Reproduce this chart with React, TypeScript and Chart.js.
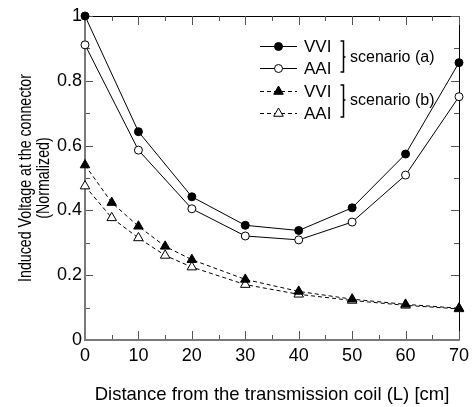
import React, { useEffect, useRef } from 'react';
import { Chart, registerables } from 'chart.js';
Chart.register(...registerables);

const distA = [0, 10, 20, 30, 40, 50, 60, 70];
const vviA = [1.0, 0.643, 0.442, 0.354, 0.338, 0.408, 0.574, 0.856];
const aaiA = [0.911, 0.586, 0.405, 0.321, 0.309, 0.364, 0.509, 0.751];
const distB = [0, 5, 10, 15, 20, 30, 40, 50, 60, 70];
const vviB = [0.54, 0.424, 0.351, 0.289, 0.248, 0.187, 0.15, 0.126, 0.11, 0.098];
const aaiB = [0.475, 0.377, 0.315, 0.261, 0.225, 0.171, 0.141, 0.122, 0.107, 0.096];

const legendLabels = ['VVI', 'AAI', 'VVI', 'AAI'];
const groupLabels = ['scenario (a)', 'scenario (b)'];
const xTitle = 'Distance from the transmission coil (L) [cm]';
const yTitle = ['Induced Voltage at the connector', '(Normalized)'];

const FONT = "'Liberation Sans', Arial, Helvetica, sans-serif";
const DASH = [4, 3];

const toPts = (xs: number[], ys: number[]) => xs.map((x, i) => ({ x, y: ys[i] }));

const framePlugin = {
  id: 'frame',
  beforeDatasetsDraw(chart: any) {
    const { ctx, chartArea: a, scales } = chart;
    const xs = scales.x, ys = scales.y;
    ctx.save();
    ctx.strokeStyle = '#000';
    ctx.lineWidth = 1;
    ctx.beginPath();
    ctx.moveTo(a.left, a.top + 0.5);
    ctx.lineTo(a.right + 0.5, a.top + 0.5);
    ctx.lineTo(a.right + 0.5, a.bottom);
    ctx.stroke();
    ctx.strokeStyle = '#555';
    ctx.lineWidth = 1;
    for (let v = 0; v <= 70; v += 5) {
      const px = Math.round(xs.getPixelForValue(v)) + 0.5;
      const len = v % 10 === 0 ? 9 : 5;
      ctx.beginPath();
      ctx.moveTo(px, a.bottom);
      ctx.lineTo(px, a.bottom - len);
      ctx.moveTo(px, a.top);
      ctx.lineTo(px, a.top + len);
      ctx.stroke();
    }
    for (let i = 0; i <= 10; i++) {
      const v = i / 10;
      const py = Math.round(ys.getPixelForValue(v)) + 0.5;
      const len = i % 2 === 0 ? 8 : 5;
      ctx.beginPath();
      ctx.moveTo(a.left, py);
      ctx.lineTo(a.left + len, py);
      ctx.moveTo(a.right, py);
      ctx.lineTo(a.right - len, py);
      ctx.stroke();
    }
    ctx.strokeStyle = '#7a7a7a';
    ctx.lineWidth = 2;
    ctx.beginPath();
    ctx.moveTo(a.left, a.top);
    ctx.lineTo(a.left, a.bottom);
    ctx.lineTo(a.right + 1, a.bottom);
    ctx.stroke();
    ctx.restore();
  },
};

function drawMarker(ctx: CanvasRenderingContext2D, kind: string, filled: boolean, x: number, y: number) {
  ctx.beginPath();
  if (kind === 'circle') {
    ctx.arc(x, y, 4, 0, Math.PI * 2);
  } else {
    const r = 5.5;
    for (let k = 0; k < 3; k++) {
      const ang = (k * 2 * Math.PI) / 3;
      const px = x + Math.sin(ang) * r;
      const py = y - Math.cos(ang) * r;
      if (k === 0) ctx.moveTo(px, py);
      else ctx.lineTo(px, py);
    }
    ctx.closePath();
  }
  ctx.fillStyle = filled ? '#000' : '#fff';
  ctx.fill();
  ctx.setLineDash([]);
  ctx.lineWidth = 1;
  ctx.strokeStyle = '#000';
  ctx.stroke();
}

const legendPlugin = {
  id: 'customLegend',
  afterDraw(chart: any) {
    const { ctx, chartArea: a } = chart;
    const rows = [46, 68, 91, 113];
    const kinds = ['circle', 'circle', 'triangle', 'triangle'];
    const fills = [true, false, true, false];
    const dashed = [false, false, true, true];
    ctx.save();
    for (let i = 0; i < 4; i++) {
      const y = rows[i];
      ctx.strokeStyle = '#000';
      ctx.lineWidth = 1;
      ctx.setLineDash(dashed[i] ? DASH : []);
      ctx.beginPath();
      ctx.moveTo(260, y + 0.5);
      ctx.lineTo(297, y + 0.5);
      ctx.stroke();
      drawMarker(ctx, kinds[i], fills[i], 278.5, y + 0.5);
      ctx.fillStyle = '#000';
      ctx.font = `17px ${FONT}`;
      ctx.textAlign = 'left';
      ctx.textBaseline = 'middle';
      ctx.fillText(legendLabels[i], 304, y + 1);
    }
    const groups = [
      [41, 72, 57],
      [85, 117, 100],
    ];
    ctx.setLineDash([]);
    ctx.lineWidth = 1.5;
    groups.forEach((g, gi) => {
      const bx = 343.5;
      ctx.beginPath();
      ctx.moveTo(bx - 3, g[0]);
      ctx.lineTo(bx, g[0]);
      ctx.lineTo(bx, g[1]);
      ctx.lineTo(bx - 3, g[1]);
      ctx.moveTo(bx, g[2]);
      ctx.lineTo(bx + 2, g[2]);
      ctx.stroke();
      ctx.font = `16px ${FONT}`;
      ctx.fillText(groupLabels[gi], 350, g[2] + 1);
    });
    // y axis title (condensed along its length)
    const yc = (a.top + a.bottom) / 2;
    const xs = [26, 44.5];
    ctx.font = `18px ${FONT}`;
    ctx.textAlign = 'center';
    ctx.textBaseline = 'middle';
    yTitle.forEach((t, i) => {
      ctx.save();
      ctx.translate(xs[i], yc);
      ctx.rotate(-Math.PI / 2);
      ctx.scale(0.79, 1);
      ctx.fillText(t, 0, 0);
      ctx.restore();
    });
    ctx.restore();
  },
};

export default function App() {
  const ref = useRef<HTMLCanvasElement>(null);
  useEffect(() => {
    if (!ref.current) return;
    const common = { borderColor: '#000', borderWidth: 1, pointBorderColor: '#000', pointBorderWidth: 1, clip: false as any, tension: 0 };
    const chart = new Chart(ref.current, {
      type: 'line',
      data: {
        datasets: [
          { ...common, label: 'VVI (a)', data: toPts(distA, vviA), pointStyle: 'circle', pointRadius: 4, pointBackgroundColor: '#000' },
          { ...common, label: 'AAI (a)', data: toPts(distA, aaiA), pointStyle: 'circle', pointRadius: 4, pointBackgroundColor: '#fff' },
          { ...common, label: 'VVI (b)', data: toPts(distB, vviB), pointStyle: 'triangle', pointRadius: 5.5, pointBackgroundColor: '#000', borderDash: DASH },
          { ...common, label: 'AAI (b)', data: toPts(distB, aaiB), pointStyle: 'triangle', pointRadius: 5.5, pointBackgroundColor: '#fff', borderDash: DASH },
        ] as any,
      },
      options: {
        animation: false,
        responsive: false,
        devicePixelRatio: 1,
        layout: { padding: { top: 16, right: 12, left: 0, bottom: 0 } },
        plugins: { legend: { display: false }, tooltip: { enabled: false } },
        elements: { point: { hoverRadius: 4 } },
        scales: {
          x: {
            type: 'linear',
            min: 0,
            max: 70,
            grid: { display: false, drawTicks: false },
            border: { display: false },
            ticks: { stepSize: 10, color: '#000', font: { family: FONT, size: 18 }, padding: 5, maxRotation: 0 },
            title: { display: true, text: xTitle, color: '#000', font: { family: FONT, size: 18.5 }, padding: { top: 0, bottom: 1 } },
            afterFit: (s: any) => { s.height = 67; },
          },
          y: {
            type: 'linear',
            min: 0,
            max: 1,
            grid: { display: false, drawTicks: false },
            border: { display: false },
            ticks: {
              stepSize: 0.2,
              color: '#000',
              font: { family: FONT, size: 18 },
              padding: 3,
              callback: (v: any) => String(Math.round(Number(v) * 10) / 10),
            },
            title: { display: false },
            afterFit: (s: any) => { s.width = 85; },
          },
        },
      } as any,
      plugins: [framePlugin, legendPlugin],
    });
    return () => chart.destroy();
  }, []);
  return (
    <div style={{ position: 'absolute', left: 0, top: 0, width: 474, height: 407, background: '#fff' }}>
      <canvas ref={ref} width={474} height={407} style={{ width: 474, height: 407, display: 'block' }} />
    </div>
  );
}
